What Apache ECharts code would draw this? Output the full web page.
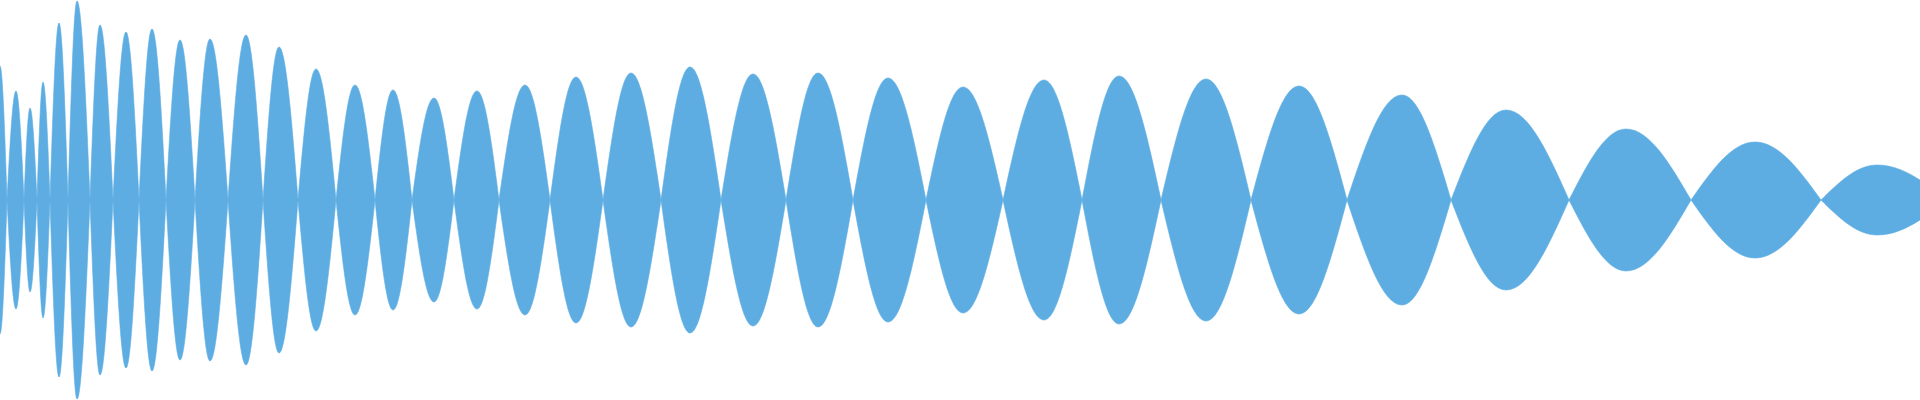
<!DOCTYPE html>
<html>
<head>
    <meta charset="utf-8" />
    <title></title>
    <style>
        html, body { margin: 0; padding: 0; background: #fff; }
        #wave { width: 1920px; height: 400px; }
    </style>
</head>
<body>
    <div id="wave"></div>
    <script src="https://cdn.jsdelivr.net/npm/echarts@6/dist/echarts.min.js"></script>
    <script>
        // zero crossings between lobes, lobe peak positions and peak amplitudes
        var nodeX = [-6, 7, 24, 37, 50, 68, 90, 113, 139, 166, 195, 228, 263, 298, 336, 375, 412, 454, 499,
            550, 603, 661, 721, 786, 853, 926, 1003, 1082, 1161, 1251, 1347, 1451, 1569, 1691, 1821, 1947];
        var peakX = [0, 16, 30, 43, 59, 77, 100, 126, 152, 180, 210, 246, 279, 316, 355, 393, 434, 477,
            525, 576, 631, 690, 753, 818, 888, 963, 1044, 1119, 1206, 1299, 1402, 1506, 1626, 1755, 1877];
        var peakAmp = [134, 109, 92, 118, 177, 199, 175, 168, 171, 160, 161, 165, 153, 131, 115, 110, 102, 109,
            115, 123, 127, 133, 126, 127, 122, 113, 120, 124, 121, 114, 105, 90, 71, 58, 35];

        var lobes = [];
        for (var i = 0; i < peakX.length; i++) {
            lobes.push([nodeX[i], peakX[i], nodeX[i + 1], peakAmp[i]]);
        }

        function renderLobe(params, api) {
            var a = api.coord([api.value(0), 0]);
            var top = api.coord([api.value(1), api.value(3)]);
            var bot = api.coord([api.value(1), -api.value(3)]);
            var b = api.coord([api.value(2), 0]);
            var cy = a[1];
            var xp = top[0];
            var dl = xp - a[0], dr = b[0] - xp;
            var ht = cy - top[1], hb = bot[1] - cy;
            var d = 'M' + a[0] + ',' + cy +
                'C' + (a[0] + 0.326 * dl) + ',' + (cy - 0.512 * ht) + ' ' + (xp - 0.362 * dl) + ',' + top[1] + ' ' + xp + ',' + top[1] +
                'C' + (xp + 0.362 * dr) + ',' + top[1] + ' ' + (b[0] - 0.326 * dr) + ',' + (cy - 0.512 * ht) + ' ' + b[0] + ',' + cy +
                'C' + (b[0] - 0.326 * dr) + ',' + (cy + 0.512 * hb) + ' ' + (xp + 0.362 * dr) + ',' + bot[1] + ' ' + xp + ',' + bot[1] +
                'C' + (xp - 0.362 * dl) + ',' + bot[1] + ' ' + (a[0] + 0.326 * dl) + ',' + (cy + 0.512 * hb) + ' ' + a[0] + ',' + cy + 'Z';
            return {
                type: 'path',
                shape: { pathData: d },
                style: { fill: '#5DADE2', stroke: '#5DADE2', lineWidth: 0.6 }
            };
        }

        var option = {
            animation: false,
            grid: { left: 0, right: 0, top: 0, bottom: 0 },
            xAxis: { type: 'value', min: 0, max: 1920, show: false },
            yAxis: { type: 'value', min: -200, max: 200, show: false },
            series: [{
                type: 'custom',
                clip: true,
                renderItem: renderLobe,
                encode: { x: [0, 1, 2], y: 3 },
                data: lobes
            }]
        };
        var chart = echarts.init(document.getElementById('wave'));
        chart.setOption(option);
    </script>
</body>
</html>
